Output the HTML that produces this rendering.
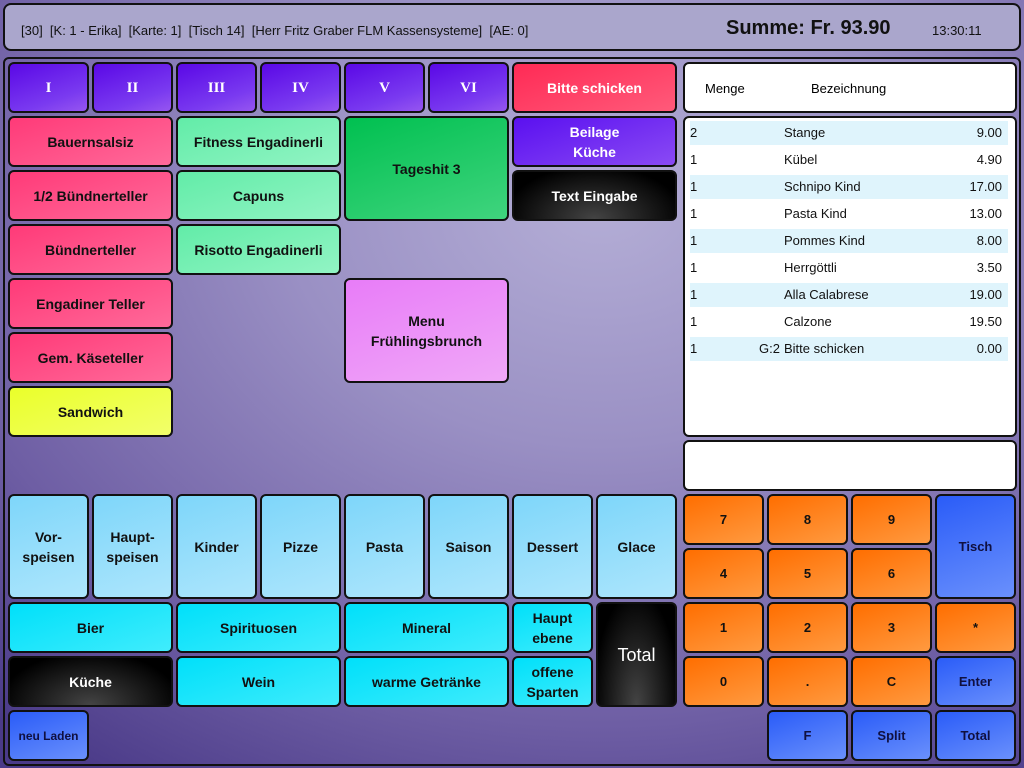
<!DOCTYPE html>
<html><head><meta charset="utf-8">
<style>
*{margin:0;padding:0;box-sizing:border-box}
body{width:1024px;height:768px;overflow:hidden;position:relative;font-family:"Liberation Sans",sans-serif;
background:radial-gradient(ellipse 900px 700px at 600px 200px,#b4aed6 0%,#9a90c4 35%,#6e5ea4 75%,#4a3a88 100%);}
.hdr{position:absolute;left:3px;top:3px;width:1018px;height:48px;border:2px solid #111;border-radius:8px;background:#aaa6cc;}
.hdr span{position:absolute;top:18px;font-size:13px;color:#111}
.main{position:absolute;left:3px;top:57px;width:1018px;height:709px;border:2px solid #111;border-radius:6px;}
.b{position:absolute;width:81px;height:51px;border:2px solid #111;border-radius:6px;display:flex;align-items:center;justify-content:center;text-align:center;font-weight:bold;font-size:14px;color:#111;line-height:20px}
.w2{width:165px}.h2{height:105px}
.pu{background:linear-gradient(160deg,#5a08e6 0%,#7a3af0 70%,#9656f0 100%);color:#fff;font-family:"Liberation Serif",serif;font-size:15px}
.rd{background:linear-gradient(160deg,#ff3a78,#ff6a9a);}
.rd2{background:linear-gradient(160deg,#ff2a55,#ff5a7a);color:#fff}
.gr{background:linear-gradient(160deg,#62eca8,#92f4c4);}
.dg{background:linear-gradient(160deg,#00c050,#40d47e);}
.pk{background:linear-gradient(160deg,#e87cf8,#f0a8f8);}
.ye{background:linear-gradient(160deg,#eaff2a,#f2ff6a);}
.vi{background:linear-gradient(160deg,#5a10f0,#8a4af4);color:#fff}
.bk{background:radial-gradient(ellipse at 50% 100%,#444,#000 80%);color:#fff}
.lb{background:linear-gradient(160deg,#7ed6fa,#aee6fc);}
.cy{background:linear-gradient(160deg,#00e0fa,#40ecfc);}
.or{background:linear-gradient(160deg,#ff6e00,#ff9a40);font-size:13px}
.bl{background:linear-gradient(160deg,#2a5cf8,#6a90fc);font-size:13px;color:#101040}
.box{position:absolute;background:#fff;border:2px solid #111;border-radius:6px}
.row{position:absolute;left:690px;width:318px;height:24px;font-size:13px;color:#111}
.row.a{background:#dff4fc}
.row span{position:absolute;top:4px}
</style></head><body>
<div class="hdr">
<span style="left:16px">[30]&nbsp; [K: 1 - Erika]&nbsp; [Karte: 1]&nbsp; [Tisch 14]&nbsp; [Herr Fritz Graber FLM Kassensysteme]&nbsp; [AE: 0]</span>
<span style="left:721px;top:12px;font-size:20px;font-weight:bold">Summe: Fr. 93.90</span>
<span style="left:927px;">13:30:11</span>
</div>
<div class="main"></div>

<div class="b pu" style="left:8px;top:62px">I</div>
<div class="b pu" style="left:92px;top:62px">II</div>
<div class="b pu" style="left:176px;top:62px">III</div>
<div class="b pu" style="left:260px;top:62px">IV</div>
<div class="b pu" style="left:344px;top:62px">V</div>
<div class="b pu" style="left:428px;top:62px">VI</div>
<div class="b rd2 w2" style="left:512px;top:62px">Bitte schicken</div>

<div class="b rd w2" style="left:8px;top:116px">Bauernsalsiz</div>
<div class="b rd w2" style="left:8px;top:170px">1/2 Bündnerteller</div>
<div class="b rd w2" style="left:8px;top:224px">Bündnerteller</div>
<div class="b rd w2" style="left:8px;top:278px">Engadiner Teller</div>
<div class="b rd w2" style="left:8px;top:332px">Gem. Käseteller</div>
<div class="b ye w2" style="left:8px;top:386px">Sandwich</div>
<div class="b gr w2" style="left:176px;top:116px">Fitness Engadinerli</div>
<div class="b gr w2" style="left:176px;top:170px">Capuns</div>
<div class="b gr w2" style="left:176px;top:224px">Risotto Engadinerli</div>
<div class="b dg w2 h2" style="left:344px;top:116px">Tageshit 3</div>
<div class="b pk w2 h2" style="left:344px;top:278px">Menu<br>Frühlingsbrunch</div>
<div class="b vi w2" style="left:512px;top:116px">Beilage<br>Küche</div>
<div class="b bk w2" style="left:512px;top:170px">Text Eingabe</div>

<div class="box" style="left:683px;top:62px;width:334px;height:51px">
<span style="position:absolute;left:20px;top:17px;font-size:13px">Menge</span>
<span style="position:absolute;left:126px;top:17px;font-size:13px">Bezeichnung</span>
</div>
<div class="box" style="left:683px;top:116px;width:334px;height:321px"></div>
<div class="box" style="left:683px;top:440px;width:334px;height:51px"></div>

<div class="row a" style="top:121px"><span style="left:0">2</span><span style="left:94px">Stange</span><span style="right:6px">9.00</span></div>
<div class="row" style="top:148px"><span style="left:0">1</span><span style="left:94px">Kübel</span><span style="right:6px">4.90</span></div>
<div class="row a" style="top:175px"><span style="left:0">1</span><span style="left:94px">Schnipo Kind</span><span style="right:6px">17.00</span></div>
<div class="row" style="top:202px"><span style="left:0">1</span><span style="left:94px">Pasta Kind</span><span style="right:6px">13.00</span></div>
<div class="row a" style="top:229px"><span style="left:0">1</span><span style="left:94px">Pommes Kind</span><span style="right:6px">8.00</span></div>
<div class="row" style="top:256px"><span style="left:0">1</span><span style="left:94px">Herrgöttli</span><span style="right:6px">3.50</span></div>
<div class="row a" style="top:283px"><span style="left:0">1</span><span style="left:94px">Alla Calabrese</span><span style="right:6px">19.00</span></div>
<div class="row" style="top:310px"><span style="left:0">1</span><span style="left:94px">Calzone</span><span style="right:6px">19.50</span></div>
<div class="row a" style="top:337px"><span style="left:0">1</span><span style="left:69px">G:2</span><span style="left:94px">Bitte schicken</span><span style="right:6px">0.00</span></div>

<div class="b lb h2" style="left:8px;top:494px">Vor-<br>speisen</div>
<div class="b lb h2" style="left:92px;top:494px">Haupt-<br>speisen</div>
<div class="b lb h2" style="left:176px;top:494px">Kinder</div>
<div class="b lb h2" style="left:260px;top:494px">Pizze</div>
<div class="b lb h2" style="left:344px;top:494px">Pasta</div>
<div class="b lb h2" style="left:428px;top:494px">Saison</div>
<div class="b lb h2" style="left:512px;top:494px">Dessert</div>
<div class="b lb h2" style="left:596px;top:494px">Glace</div>

<div class="b cy w2" style="left:8px;top:602px">Bier</div>
<div class="b cy w2" style="left:176px;top:602px">Spirituosen</div>
<div class="b cy w2" style="left:344px;top:602px">Mineral</div>
<div class="b cy" style="left:512px;top:602px">Haupt<br>ebene</div>
<div class="b bk h2" style="left:596px;top:602px;font-weight:normal;font-size:18px">Total</div>
<div class="b bk w2" style="left:8px;top:656px">Küche</div>
<div class="b cy w2" style="left:176px;top:656px">Wein</div>
<div class="b cy w2" style="left:344px;top:656px">warme Getränke</div>
<div class="b cy" style="left:512px;top:656px">offene<br>Sparten</div>
<div class="b bl" style="left:8px;top:710px;font-size:12px">neu Laden</div>

<div class="b or" style="left:683px;top:494px">7</div>
<div class="b or" style="left:767px;top:494px">8</div>
<div class="b or" style="left:851px;top:494px">9</div>
<div class="b bl h2" style="left:935px;top:494px">Tisch</div>
<div class="b or" style="left:683px;top:548px">4</div>
<div class="b or" style="left:767px;top:548px">5</div>
<div class="b or" style="left:851px;top:548px">6</div>
<div class="b or" style="left:683px;top:602px">1</div>
<div class="b or" style="left:767px;top:602px">2</div>
<div class="b or" style="left:851px;top:602px">3</div>
<div class="b or" style="left:935px;top:602px">*</div>
<div class="b or" style="left:683px;top:656px">0</div>
<div class="b or" style="left:767px;top:656px">.</div>
<div class="b or" style="left:851px;top:656px">C</div>
<div class="b bl" style="left:935px;top:656px">Enter</div>
<div class="b bl" style="left:767px;top:710px">F</div>
<div class="b bl" style="left:851px;top:710px">Split</div>
<div class="b bl" style="left:935px;top:710px">Total</div>
</body></html>
